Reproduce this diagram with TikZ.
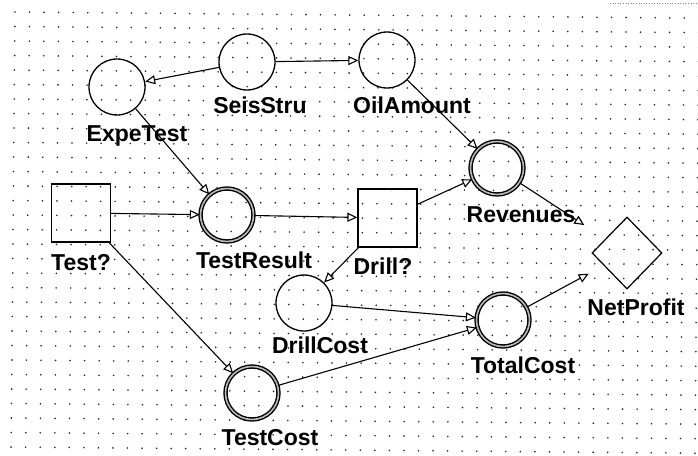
\documentclass[tikz,border=0pt]{standalone}
\usepackage{fontspec}
\setmainfont{Liberation Sans}
\usetikzlibrary{arrows.meta,shapes.geometric}
\begin{document}
\begin{tikzpicture}[x=1pt,y=-1pt,
  chance/.style={circle,draw,line width=1.3pt,inner sep=0pt,minimum size=56pt},
  funcnode/.style={circle,draw=black,line width=1.4pt,double=gray!55,double distance=1.6pt,inner sep=0pt,minimum size=53pt},
  decision/.style={rectangle,draw,line width=1.2pt,inner sep=0pt,minimum width=59pt,minimum height=58pt},
  valuenode/.style={diamond,draw,line width=1.2pt,inner sep=0pt,minimum width=70pt,minimum height=72pt},
  lbl/.style={anchor=base,inner sep=0pt,font=\bfseries\fontsize{23}{27}\selectfont},
  conn/.style={draw,line width=1.1pt,-{Triangle[open,length=10pt,width=9pt]}},
  griddot/.style={fill=black!85}]
\useasboundingbox (0,0) rectangle (698,455);
\fill[white] (0,0) rectangle (698,455);
\begin{scope}
\clip (0,0) rectangle (698,455);
\foreach \i in {0,...,47} {
  \foreach \j in {0,...,30} {
    \fill[griddot] ({15+14.55*\i-0.13*\j},{12+14.5*\j+0.131*\i}) circle (0.9pt);
  }
}
\coordinate (tl1) at (610,3);
\coordinate (tl2) at (698,3);
\draw[gray,line width=0.6pt,dotted] (tl1) -- (tl2);
\end{scope}

% nodes
\node[chance] (seis) at (247,62) {};
\node[chance] (expe) at (117,87) {};
\node[chance] (oil) at (387,60) {};
\node[funcnode] (rev) at (497,168) {};
\node[decision] (test) at (81,213) {};
\node[funcnode] (tres) at (227,215) {};
\node[decision] (drill) at (387.5,218) {};
\node[chance] (dcost) at (304,303) {};
\node[funcnode] (tcost) at (252,393) {};
\node[funcnode] (tot) at (503,320) {};
\node[valuenode] (net) at (627,253) {};

% labels
\node[lbl] (lseis) at (260,113) {SeisStru};
\node[lbl] (lexpe) at (137,141) {ExpeTest};
\node[lbl] (loil) at (412,113) {OilAmount};
\node[lbl] (lrev) at (521,222) {Revenues};
\node[lbl] (ltest) at (81,270) {Test?};
\node[lbl] (ltres) at (254,268) {TestResult};
\node[lbl] (ldrill) at (383,274) {Drill?};
\node[lbl] (ldcost) at (320,353) {DrillCost};
\node[lbl] (ltcost) at (270,445) {TestCost};
\node[lbl] (ltot) at (523,373) {TotalCost};
\node[lbl] (lnet) at (636,315) {NetProfit};

% connectors
\draw[conn] (seis) -- (expe);
\draw[conn] (seis) -- (oil);
\draw[conn] (oil) -- (rev);
\draw[conn] (expe) -- (tres);
\draw[conn] (test) -- (tres);
\draw[conn] (test) -- (tcost);
\draw[conn] (tres) -- (drill);
\draw[conn] (drill) -- (rev);
\draw[conn] (drill) -- (dcost);
\draw[conn,shorten >=25pt] (rev) -- (net);
\draw[conn] (dcost) -- (tot);
\draw[conn] (tcost) -- (tot);
\draw[conn,shorten >=17pt] (tot) -- (net);
\end{tikzpicture}
\end{document}
